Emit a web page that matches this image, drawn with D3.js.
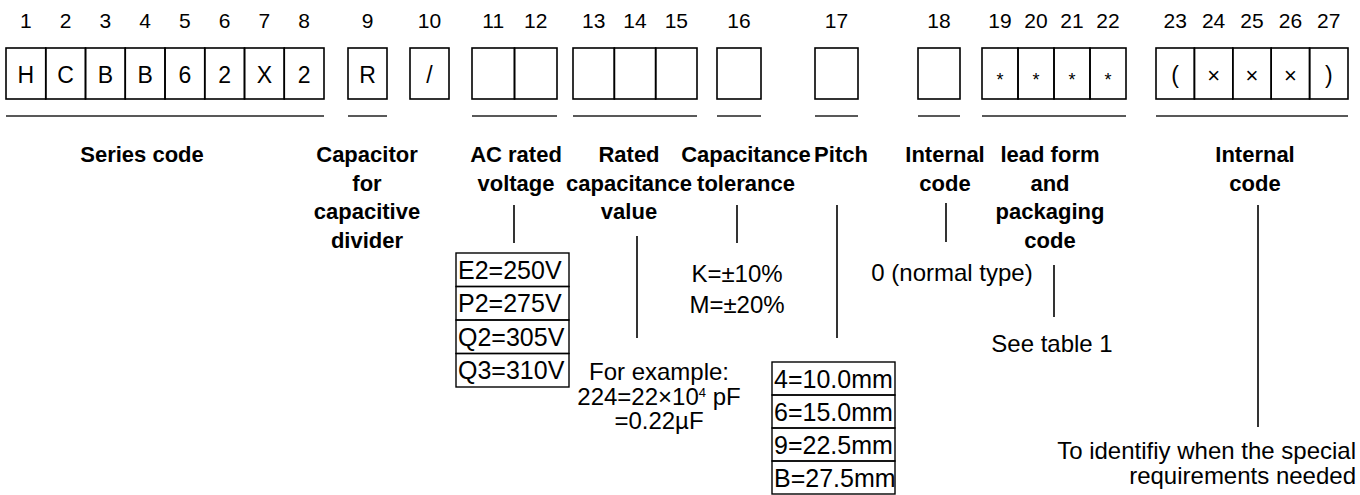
<!DOCTYPE html>
<html>
<head>
<meta charset="utf-8">
<script src="https://cdn.jsdelivr.net/npm/d3@7/dist/d3.min.js"></script>
<style>
  body { margin: 0; background: #fff; }
  text { font-family: Arial, "Liberation Sans", sans-serif; fill: #000; }
</style>
</head>
<body>
<div id="chart"></div>
<script>
(function() {
  var width = 1360,
      height = 495;

  // position numbers above the code cells
  var positions = ["1","2","3","4","5","6","7","8","9","10","11","12","13","14",
                   "15","16","17","18","19","20","21","22","23","24","25","26","27"];
  // what is written in each cell
  var cellText = ["H","C","B","B","6","2","X","2","R","/","","","","","","","","",
                  "*","*","*","*","(","×","×","×",")"];
  // how many cells each box has
  var groupSizes = [8, 1, 1, 2, 3, 1, 1, 1, 4, 5];
  var groupTitles = [
    ["Series code"],
    ["Capacitor", "for", "capacitive", "divider"],
    [],
    ["AC rated", "voltage"],
    ["Rated", "capacitance", "value"],
    ["Capacitance", "tolerance"],
    ["Pitch"],
    ["Internal", "code"],
    ["lead form", "and", "packaging", "code"],
    ["Internal", "code"]
  ];
  var voltageCodes = ["E2=250V", "P2=275V", "Q2=305V", "Q3=310V"];
  var pitchCodes = ["4=10.0mm", "6=15.0mm", "9=22.5mm", "B=27.5mm"];
  var toleranceCodes = ["K=±10%", "M=±20%"];
  var capacitanceNote = ["For example:", "224=22×10^4 pF", "=0.22µF"];
  var internalNote = ["0 (normal type)"];
  var leadNote = ["See table 1"];
  var specialNote = ["To identifiy when the special", "requirements needed"];

  // layout of the boxes (pixel extents) and title centres
  var groupX = [[6,324],[348,387],[410,449],[472,557],[573,697],[717,761],[815,858],[918,960],[982,1126],[1156,1348]];
  var titleX = [142, 367, null, 516, 629, 746, 841, 945, 1050, 1255];
  var boxTop = 48, boxBottom = 99, lineY = 116;

  var svg = d3.select("#chart")
    .append("svg")
    .attr("width", width)
    .attr("height", height)
    .style("display", "block");

  svg.append("rect").attr("width", width).attr("height", height).attr("fill", "#fff");

  // build cells from group sizes
  var cells = [], k = 0;
  groupSizes.forEach(function(n, g) {
    var idx = d3.range(k, k + n);
    var band = d3.scaleBand().domain(idx).range(groupX[g]);
    idx.forEach(function(i) {
      cells.push({ i: i, g: g, x: band(i), w: band.bandwidth(), label: positions[i], text: cellText[i] });
    });
    k += n;
  });

  var cell = svg.selectAll(".cell")
    .data(cells)
    .enter()
    .append("g")
    .attr("class", "cell");

  cell.append("rect")
    .attr("x", function(d) { return d.x; })
    .attr("y", boxTop)
    .attr("width", function(d) { return d.w; })
    .attr("height", boxBottom - boxTop)
    .attr("fill", "none")
    .attr("stroke", "#000")
    .attr("stroke-width", 1.6);

  cell.append("text")
    .attr("x", function(d) { return d.x + d.w / 2; })
    .attr("y", 28)
    .attr("text-anchor", "middle")
    .style("font-size", "21px")
    .text(function(d) { return d.label; });

  cell.append("text")
    .attr("x", function(d) { return d.x + d.w / 2; })
    .attr("y", function(d) { return d.text === "*" ? 86 : 83; })
    .attr("text-anchor", "middle")
    .style("font-size", function(d) {
      if (d.text === "*") return "18px";
      if (d.text === "×") return "22px";
      return "23px";
    })
    .text(function(d) { return d.text; });

  // underlines below each box (not under "/")
  svg.selectAll(".uline")
    .data(groupX.filter(function(d, i) { return i !== 2; }))
    .enter()
    .append("line")
    .attr("x1", function(d) { return d[0]; })
    .attr("x2", function(d) { return d[1]; })
    .attr("y1", lineY)
    .attr("y2", lineY)
    .attr("stroke", "#222")
    .attr("stroke-width", 1.4);

  // bold titles
  groupTitles.forEach(function(lines, g) {
    if (!lines.length) return;
    svg.append("g")
      .selectAll("text")
      .data(lines)
      .enter()
      .append("text")
      .attr("x", titleX[g])
      .attr("y", function(d, i) { return 162 + i * 28.7; })
      .attr("text-anchor", "middle")
      .style("font-size", "22px")
      .style("font-weight", "bold")
      .text(function(d) { return d; });
  });

  // connector lines
  var connectors = [[514,205,243],[637,236,338],[737,205,243],[837,205,338],[946,203,242],[1054,265,317],[1258,205,427]];
  svg.selectAll(".conn")
    .data(connectors)
    .enter()
    .append("line")
    .attr("x1", function(d) { return d[0]; })
    .attr("x2", function(d) { return d[0]; })
    .attr("y1", function(d) { return d[1]; })
    .attr("y2", function(d) { return d[2]; })
    .attr("stroke", "#000")
    .attr("stroke-width", 1.6);

  // small code tables
  function codeTable(rows, x, y0, y1, w) {
    var y = d3.scaleBand().domain(d3.range(rows.length)).range([y0, y1]);
    var g = svg.append("g");
    var r = g.selectAll("g").data(rows).enter().append("g");
    r.append("rect")
      .attr("x", x)
      .attr("y", function(d, i) { return y(i); })
      .attr("width", w)
      .attr("height", y.bandwidth())
      .attr("fill", "none")
      .attr("stroke", "#000")
      .attr("stroke-width", 1.4);
    r.append("text")
      .attr("x", x + 2)
      .attr("y", function(d, i) { return y(i) + y.bandwidth() / 2 + 9; })
      .style("font-size", "25px")
      .text(function(d) { return d; });
  }
  codeTable(voltageCodes, 456, 253, 387, 113);
  codeTable(pitchCodes, 772, 362, 494, 123);

  function note(lines, x, y0, step, anchor) {
    var t = svg.append("g").selectAll("text")
      .data(lines)
      .enter()
      .append("text")
      .attr("x", x)
      .attr("y", function(d, i) { return y0 + i * step; })
      .attr("text-anchor", anchor)
      .style("font-size", "24px");
    t.each(function(d) {
      var parts = d.split("^");
      var el = d3.select(this);
      if (parts.length === 1) { el.text(d); return; }
      // superscript exponent
      var m = parts[1].match(/^(\d+)(.*)$/);
      el.append("tspan").text(parts[0]);
      el.append("tspan").attr("dy", -8).style("font-size", "13px").text(m[1]);
      el.append("tspan").attr("dy", 8).text(m[2]);
    });
  }
  note(toleranceCodes, 737, 282, 31, "middle");
  note(capacitanceNote, 659, 380, 24.5, "middle");
  note(internalNote, 952, 281, 25, "middle");
  note(leadNote, 1052, 352, 25, "middle");
  note(specialNote, 1356, 459, 25, "end");
})();
</script>
</body>
</html>
